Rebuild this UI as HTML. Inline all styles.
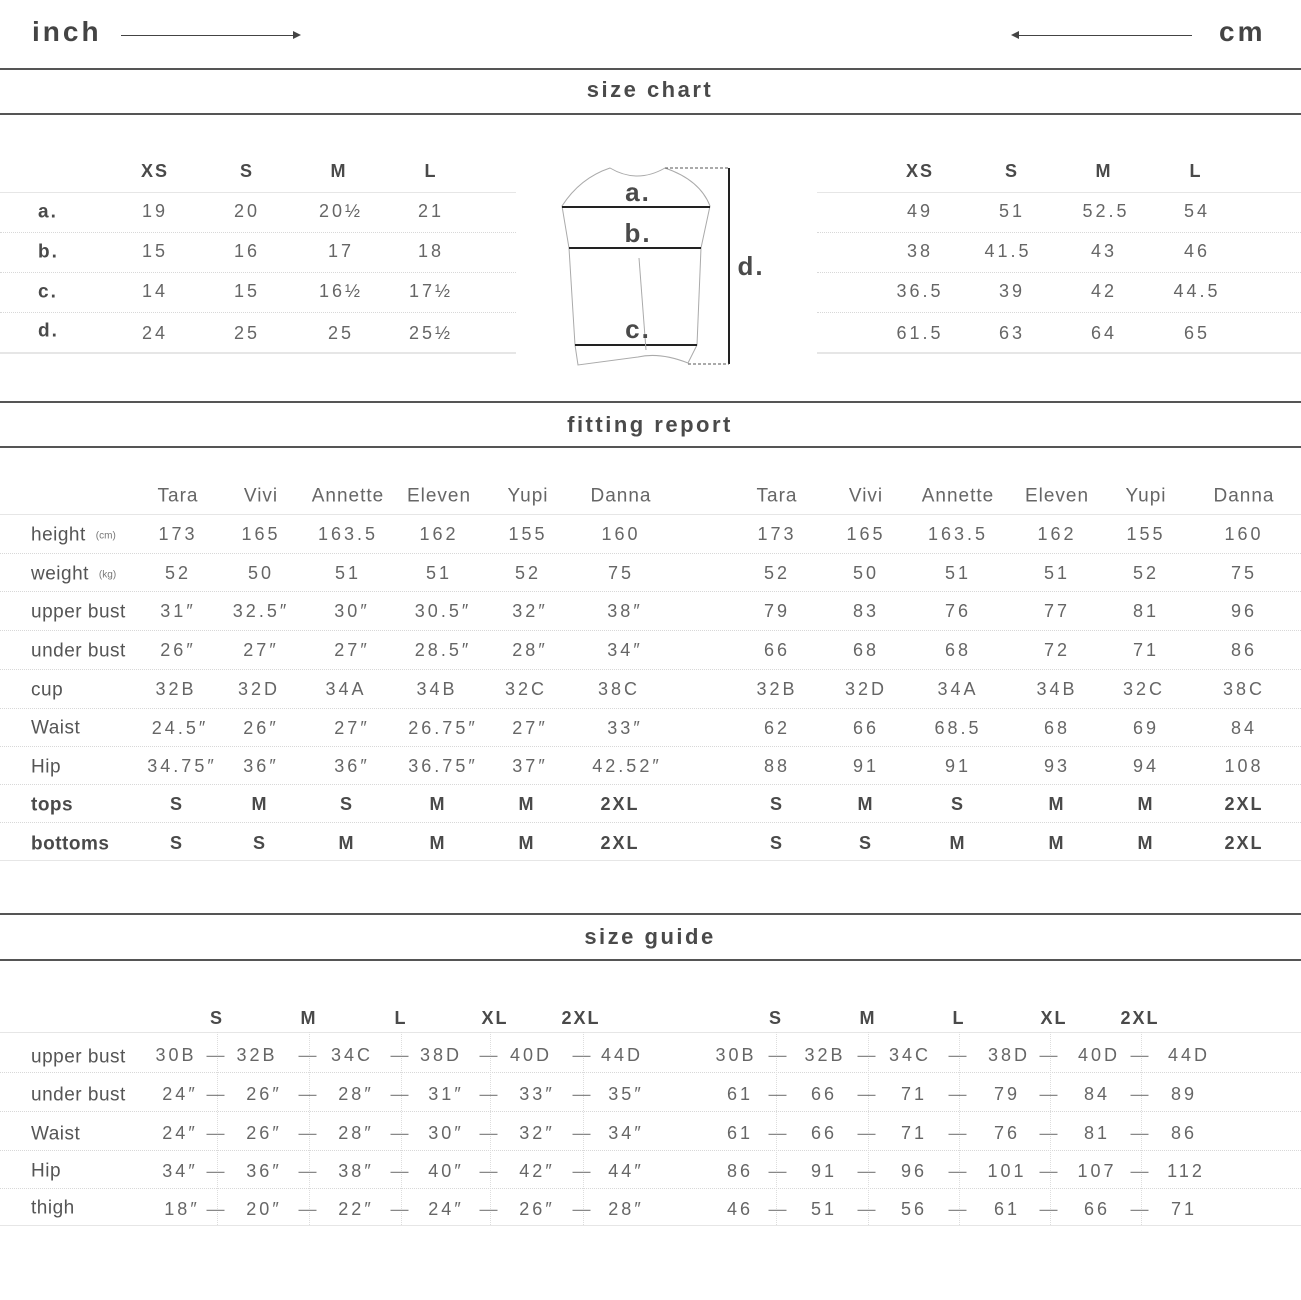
<!DOCTYPE html>
<html><head><meta charset="utf-8">
<style>
html,body{margin:0;padding:0;background:#fff;}
body{width:1301px;height:1300px;position:relative;overflow:hidden;font-family:"Liberation Sans",sans-serif;color:#5a5a5a;}
.t{position:absolute;transform:translate(-50%,-50%);white-space:nowrap;line-height:1;font-size:18px;letter-spacing:3px;font-weight:300;color:#666;}
.l{position:absolute;transform:translateY(-50%);white-space:nowrap;line-height:1;font-size:19px;letter-spacing:0.5px;color:#555;}
.b{font-weight:bold;color:#4a4a4a;letter-spacing:2px;}
.h{position:absolute;transform:translate(-50%,-50%);white-space:nowrap;line-height:1;font-size:19px;letter-spacing:1px;color:#666;}
.hr{position:absolute;left:0;width:1301px;height:2px;background:#555;}
.sl{position:absolute;height:1px;background:#e6e6e6;}
.dl{position:absolute;height:0;border-top:1px dotted #d8d8d8;}
.vd{position:absolute;width:0;border-left:1px dotted #ddd;}
.title{position:absolute;left:650px;transform:translate(-50%,-50%);font-size:22px;font-weight:bold;letter-spacing:2.5px;color:#4a4a4a;line-height:1;}
sup{font-size:10px;letter-spacing:0;vertical-align:2px;margin-left:10px;color:#777;}
</style></head><body>

<div style="position:absolute;left:32px;top:18px;font-size:28px;font-weight:bold;letter-spacing:3px;color:#444;line-height:1">inch</div>
<div style="position:absolute;left:121px;top:35px;width:174px;height:1px;background:#444"></div>
<div style="position:absolute;left:293px;top:31px;border-left:8px solid #444;border-top:4px solid transparent;border-bottom:4px solid transparent"></div>
<div style="position:absolute;left:1219px;top:18px;font-size:28px;font-weight:bold;letter-spacing:3px;color:#444;line-height:1">cm</div>
<div style="position:absolute;left:1018px;top:35px;width:174px;height:1px;background:#444"></div>
<div style="position:absolute;left:1011px;top:31px;border-right:8px solid #444;border-top:4px solid transparent;border-bottom:4px solid transparent"></div>

<div class="hr" style="top:68px"></div>
<div class="title" style="top:90px">size chart</div>
<div class="hr" style="top:113px"></div>

<!-- size chart left -->
<div class="sl" style="left:0;width:516px;top:192px"></div>
<div class="dl" style="left:0;width:516px;top:232px"></div>
<div class="dl" style="left:0;width:516px;top:272px"></div>
<div class="dl" style="left:0;width:516px;top:312px"></div>
<div class="sl" style="left:0;width:516px;top:352px;height:2px"></div>
<div class="sl" style="left:817px;width:484px;top:192px"></div>
<div class="dl" style="left:817px;width:484px;top:232px"></div>
<div class="dl" style="left:817px;width:484px;top:272px"></div>
<div class="dl" style="left:817px;width:484px;top:312px"></div>
<div class="sl" style="left:817px;width:484px;top:352px;height:2px"></div>

<div class="t b" style="left:155px;top:171px">XS</div><div class="t b" style="left:247px;top:171px">S</div><div class="t b" style="left:339px;top:171px">M</div><div class="t b" style="left:431px;top:171px">L</div>
<div class="l b" style="left:38px;top:212px">a.</div><div class="l b" style="left:38px;top:252px">b.</div><div class="l b" style="left:38px;top:292px">c.</div><div class="l b" style="left:38px;top:331px">d.</div>
<div class="t" style="left:155px;top:211px">19</div><div class="t" style="left:247px;top:211px">20</div><div class="t" style="left:341px;top:211px">20½</div><div class="t" style="left:431px;top:211px">21</div>
<div class="t" style="left:155px;top:251px">15</div><div class="t" style="left:247px;top:251px">16</div><div class="t" style="left:341px;top:251px">17</div><div class="t" style="left:431px;top:251px">18</div>
<div class="t" style="left:155px;top:291px">14</div><div class="t" style="left:247px;top:291px">15</div><div class="t" style="left:341px;top:291px">16½</div><div class="t" style="left:431px;top:291px">17½</div>
<div class="t" style="left:155px;top:333px">24</div><div class="t" style="left:247px;top:333px">25</div><div class="t" style="left:341px;top:333px">25</div><div class="t" style="left:431px;top:333px">25½</div>

<div class="t b" style="left:920px;top:171px">XS</div><div class="t b" style="left:1012px;top:171px">S</div><div class="t b" style="left:1104px;top:171px">M</div><div class="t b" style="left:1196px;top:171px">L</div>
<div class="t" style="left:920px;top:211px">49</div><div class="t" style="left:1012px;top:211px">51</div><div class="t" style="left:1106px;top:211px">52.5</div><div class="t" style="left:1197px;top:211px">54</div>
<div class="t" style="left:920px;top:251px">38</div><div class="t" style="left:1008px;top:251px">41.5</div><div class="t" style="left:1104px;top:251px">43</div><div class="t" style="left:1197px;top:251px">46</div>
<div class="t" style="left:920px;top:291px">36.5</div><div class="t" style="left:1012px;top:291px">39</div><div class="t" style="left:1104px;top:291px">42</div><div class="t" style="left:1197px;top:291px">44.5</div>
<div class="t" style="left:920px;top:333px">61.5</div><div class="t" style="left:1012px;top:333px">63</div><div class="t" style="left:1104px;top:333px">64</div><div class="t" style="left:1197px;top:333px">65</div>

<svg style="position:absolute;left:0;top:0" width="1301" height="400">
<path d="M610 168 Q637 184 665 168 Q700 180 710 206 L701 248 L697 345 L688 363 Q660 352 638 357 Q600 362 578 365 L575 345 L569 248 L562 206 Q580 178 610 168 Z" fill="none" stroke="#aaa" stroke-width="1"/>
<line x1="562" y1="207" x2="710" y2="207" stroke="#222" stroke-width="2"/>
<line x1="569" y1="248" x2="701" y2="248" stroke="#222" stroke-width="2"/>
<line x1="575" y1="345" x2="697" y2="345" stroke="#222" stroke-width="2"/>
<line x1="639" y1="258" x2="646" y2="350" stroke="#aaa" stroke-width="1"/>
<line x1="729" y1="168" x2="729" y2="364" stroke="#222" stroke-width="2"/>
<line x1="665" y1="168" x2="729" y2="168" stroke="#555" stroke-width="1" stroke-dasharray="3,2"/>
<line x1="688" y1="364" x2="729" y2="364" stroke="#555" stroke-width="1" stroke-dasharray="3,2"/>
</svg>
<div class="t b" style="left:638px;top:192px;font-size:26px">a.</div>
<div class="t b" style="left:638px;top:233px;font-size:26px">b.</div>
<div class="t b" style="left:638px;top:329px;font-size:26px">c.</div>
<div class="t b" style="left:751px;top:266px;font-size:26px">d.</div>

<div class="hr" style="top:401px"></div>
<div class="title" style="top:425px">fitting report</div>
<div class="hr" style="top:446px"></div>

<!-- fitting report lines -->
<div class="sl" style="left:0;width:1301px;top:514px"></div>
<div class="dl" style="left:0;width:1301px;top:553px"></div>
<div class="dl" style="left:0;width:1301px;top:591px"></div>
<div class="dl" style="left:0;width:1301px;top:630px"></div>
<div class="dl" style="left:0;width:1301px;top:669px"></div>
<div class="dl" style="left:0;width:1301px;top:708px"></div>
<div class="dl" style="left:0;width:1301px;top:746px"></div>
<div class="dl" style="left:0;width:1301px;top:784px"></div>
<div class="dl" style="left:0;width:1301px;top:822px"></div>
<div class="sl" style="left:0;width:1301px;top:860px"></div>

<div class="h" style="left:178px;top:496px">Tara</div><div class="h" style="left:261px;top:496px">Vivi</div><div class="h" style="left:348px;top:496px">Annette</div><div class="h" style="left:439px;top:496px">Eleven</div><div class="h" style="left:528px;top:496px">Yupi</div><div class="h" style="left:621px;top:496px">Danna</div>
<div class="h" style="left:777px;top:496px">Tara</div><div class="h" style="left:866px;top:496px">Vivi</div><div class="h" style="left:958px;top:496px">Annette</div><div class="h" style="left:1057px;top:496px">Eleven</div><div class="h" style="left:1146px;top:496px">Yupi</div><div class="h" style="left:1244px;top:496px">Danna</div>

<div class="l" style="left:31px;top:535px">height<sup>(cm)</sup></div>
<div class="l" style="left:31px;top:574px">weight<sup>(kg)</sup></div>
<div class="l" style="left:31px;top:612px">upper bust</div>
<div class="l" style="left:31px;top:651px">under bust</div>
<div class="l" style="left:31px;top:690px">cup</div>
<div class="l" style="left:31px;top:728px">Waist</div>
<div class="l" style="left:31px;top:767px">Hip</div>
<div class="l b" style="left:31px;top:805px;letter-spacing:0.5px">tops</div>
<div class="l b" style="left:31px;top:844px;letter-spacing:0.5px">bottoms</div>

<div class="t" style="left:178px;top:534px">173</div><div class="t" style="left:261px;top:534px">165</div><div class="t" style="left:348px;top:534px">163.5</div><div class="t" style="left:439px;top:534px">162</div><div class="t" style="left:528px;top:534px">155</div><div class="t" style="left:621px;top:534px">160</div>
<div class="t" style="left:178px;top:573px">52</div><div class="t" style="left:261px;top:573px">50</div><div class="t" style="left:348px;top:573px">51</div><div class="t" style="left:439px;top:573px">51</div><div class="t" style="left:528px;top:573px">52</div><div class="t" style="left:621px;top:573px">75</div>
<div class="t" style="left:178px;top:611px">31″</div><div class="t" style="left:261px;top:611px">32.5″</div><div class="t" style="left:352px;top:611px">30″</div><div class="t" style="left:443px;top:611px">30.5″</div><div class="t" style="left:530px;top:611px">32″</div><div class="t" style="left:625px;top:611px">38″</div>
<div class="t" style="left:178px;top:650px">26″</div><div class="t" style="left:261px;top:650px">27″</div><div class="t" style="left:352px;top:650px">27″</div><div class="t" style="left:443px;top:650px">28.5″</div><div class="t" style="left:530px;top:650px">28″</div><div class="t" style="left:625px;top:650px">34″</div>
<div class="t" style="left:176px;top:689px">32B</div><div class="t" style="left:259px;top:689px">32D</div><div class="t" style="left:346px;top:689px">34A</div><div class="t" style="left:437px;top:689px">34B</div><div class="t" style="left:526px;top:689px">32C</div><div class="t" style="left:619px;top:689px">38C</div>
<div class="t" style="left:180px;top:728px">24.5″</div><div class="t" style="left:261px;top:728px">26″</div><div class="t" style="left:352px;top:728px">27″</div><div class="t" style="left:443px;top:728px">26.75″</div><div class="t" style="left:530px;top:728px">27″</div><div class="t" style="left:625px;top:728px">33″</div>
<div class="t" style="left:182px;top:766px">34.75″</div><div class="t" style="left:261px;top:766px">36″</div><div class="t" style="left:352px;top:766px">36″</div><div class="t" style="left:443px;top:766px">36.75″</div><div class="t" style="left:530px;top:766px">37″</div><div class="t" style="left:627px;top:766px">42.52″</div>
<div class="t b" style="left:177px;top:804px">S</div><div class="t b" style="left:260px;top:804px">M</div><div class="t b" style="left:347px;top:804px">S</div><div class="t b" style="left:438px;top:804px">M</div><div class="t b" style="left:527px;top:804px">M</div><div class="t b" style="left:620px;top:804px">2XL</div>
<div class="t b" style="left:177px;top:843px">S</div><div class="t b" style="left:260px;top:843px">S</div><div class="t b" style="left:347px;top:843px">M</div><div class="t b" style="left:438px;top:843px">M</div><div class="t b" style="left:527px;top:843px">M</div><div class="t b" style="left:620px;top:843px">2XL</div>

<div class="t" style="left:777px;top:534px">173</div><div class="t" style="left:866px;top:534px">165</div><div class="t" style="left:958px;top:534px">163.5</div><div class="t" style="left:1057px;top:534px">162</div><div class="t" style="left:1146px;top:534px">155</div><div class="t" style="left:1244px;top:534px">160</div>
<div class="t" style="left:777px;top:573px">52</div><div class="t" style="left:866px;top:573px">50</div><div class="t" style="left:958px;top:573px">51</div><div class="t" style="left:1057px;top:573px">51</div><div class="t" style="left:1146px;top:573px">52</div><div class="t" style="left:1244px;top:573px">75</div>
<div class="t" style="left:777px;top:611px">79</div><div class="t" style="left:866px;top:611px">83</div><div class="t" style="left:958px;top:611px">76</div><div class="t" style="left:1057px;top:611px">77</div><div class="t" style="left:1146px;top:611px">81</div><div class="t" style="left:1244px;top:611px">96</div>
<div class="t" style="left:777px;top:650px">66</div><div class="t" style="left:866px;top:650px">68</div><div class="t" style="left:958px;top:650px">68</div><div class="t" style="left:1057px;top:650px">72</div><div class="t" style="left:1146px;top:650px">71</div><div class="t" style="left:1244px;top:650px">86</div>
<div class="t" style="left:777px;top:689px">32B</div><div class="t" style="left:866px;top:689px">32D</div><div class="t" style="left:958px;top:689px">34A</div><div class="t" style="left:1057px;top:689px">34B</div><div class="t" style="left:1144px;top:689px">32C</div><div class="t" style="left:1244px;top:689px">38C</div>
<div class="t" style="left:777px;top:728px">62</div><div class="t" style="left:866px;top:728px">66</div><div class="t" style="left:958px;top:728px">68.5</div><div class="t" style="left:1057px;top:728px">68</div><div class="t" style="left:1146px;top:728px">69</div><div class="t" style="left:1244px;top:728px">84</div>
<div class="t" style="left:777px;top:766px">88</div><div class="t" style="left:866px;top:766px">91</div><div class="t" style="left:958px;top:766px">91</div><div class="t" style="left:1057px;top:766px">93</div><div class="t" style="left:1146px;top:766px">94</div><div class="t" style="left:1244px;top:766px">108</div>
<div class="t b" style="left:777px;top:804px">S</div><div class="t b" style="left:866px;top:804px">M</div><div class="t b" style="left:958px;top:804px">S</div><div class="t b" style="left:1057px;top:804px">M</div><div class="t b" style="left:1146px;top:804px">M</div><div class="t b" style="left:1244px;top:804px">2XL</div>
<div class="t b" style="left:777px;top:843px">S</div><div class="t b" style="left:866px;top:843px">S</div><div class="t b" style="left:958px;top:843px">M</div><div class="t b" style="left:1057px;top:843px">M</div><div class="t b" style="left:1146px;top:843px">M</div><div class="t b" style="left:1244px;top:843px">2XL</div>

<div class="hr" style="top:913px"></div>
<div class="title" style="top:937px">size guide</div>
<div class="hr" style="top:959px"></div>

<!-- size guide -->
<div class="sl" style="left:0;width:1301px;top:1032px"></div>
<div class="dl" style="left:0;width:1301px;top:1072px"></div>
<div class="dl" style="left:0;width:1301px;top:1111px"></div>
<div class="dl" style="left:0;width:1301px;top:1150px"></div>
<div class="dl" style="left:0;width:1301px;top:1188px"></div>
<div class="sl" style="left:0;width:1301px;top:1225px"></div>
<div class="vd" style="left:217px;top:1032px;height:193px"></div><div class="vd" style="left:309px;top:1032px;height:193px"></div><div class="vd" style="left:401px;top:1032px;height:193px"></div><div class="vd" style="left:490px;top:1032px;height:193px"></div><div class="vd" style="left:583px;top:1032px;height:193px"></div>
<div class="vd" style="left:776px;top:1032px;height:193px"></div><div class="vd" style="left:868px;top:1032px;height:193px"></div><div class="vd" style="left:959px;top:1032px;height:193px"></div><div class="vd" style="left:1050px;top:1032px;height:193px"></div><div class="vd" style="left:1141px;top:1032px;height:193px"></div>

<div class="t b" style="left:217px;top:1018px">S</div><div class="t b" style="left:309px;top:1018px">M</div><div class="t b" style="left:401px;top:1018px">L</div><div class="t b" style="left:495px;top:1018px">XL</div><div class="t b" style="left:581px;top:1018px">2XL</div>
<div class="t b" style="left:776px;top:1018px">S</div><div class="t b" style="left:868px;top:1018px">M</div><div class="t b" style="left:959px;top:1018px">L</div><div class="t b" style="left:1054px;top:1018px">XL</div><div class="t b" style="left:1140px;top:1018px">2XL</div>

<div class="l" style="left:31px;top:1057px">upper bust</div>
<div class="l" style="left:31px;top:1095px">under bust</div>
<div class="l" style="left:31px;top:1134px">Waist</div>
<div class="l" style="left:31px;top:1171px">Hip</div>
<div class="l" style="left:31px;top:1208px">thigh</div>

<div class="t" style="left:176px;top:1055px">30B</div><div class="t" style="left:257px;top:1055px">32B</div><div class="t" style="left:352px;top:1055px">34C</div><div class="t" style="left:441px;top:1055px">38D</div><div class="t" style="left:531px;top:1055px">40D</div><div class="t" style="left:622px;top:1055px">44D</div>
<div class="t" style="left:180px;top:1094px">24″</div><div class="t" style="left:264px;top:1094px">26″</div><div class="t" style="left:356px;top:1094px">28″</div><div class="t" style="left:446px;top:1094px">31″</div><div class="t" style="left:537px;top:1094px">33″</div><div class="t" style="left:626px;top:1094px">35″</div>
<div class="t" style="left:180px;top:1133px">24″</div><div class="t" style="left:264px;top:1133px">26″</div><div class="t" style="left:356px;top:1133px">28″</div><div class="t" style="left:446px;top:1133px">30″</div><div class="t" style="left:537px;top:1133px">32″</div><div class="t" style="left:626px;top:1133px">34″</div>
<div class="t" style="left:180px;top:1171px">34″</div><div class="t" style="left:264px;top:1171px">36″</div><div class="t" style="left:356px;top:1171px">38″</div><div class="t" style="left:446px;top:1171px">40″</div><div class="t" style="left:537px;top:1171px">42″</div><div class="t" style="left:626px;top:1171px">44″</div>
<div class="t" style="left:182px;top:1209px">18″</div><div class="t" style="left:264px;top:1209px">20″</div><div class="t" style="left:356px;top:1209px">22″</div><div class="t" style="left:446px;top:1209px">24″</div><div class="t" style="left:537px;top:1209px">26″</div><div class="t" style="left:626px;top:1209px">28″</div>

<div class="t" style="left:736px;top:1055px">30B</div><div class="t" style="left:825px;top:1055px">32B</div><div class="t" style="left:910px;top:1055px">34C</div><div class="t" style="left:1009px;top:1055px">38D</div><div class="t" style="left:1099px;top:1055px">40D</div><div class="t" style="left:1189px;top:1055px">44D</div>
<div class="t" style="left:740px;top:1094px">61</div><div class="t" style="left:824px;top:1094px">66</div><div class="t" style="left:914px;top:1094px">71</div><div class="t" style="left:1007px;top:1094px">79</div><div class="t" style="left:1097px;top:1094px">84</div><div class="t" style="left:1184px;top:1094px">89</div>
<div class="t" style="left:740px;top:1133px">61</div><div class="t" style="left:824px;top:1133px">66</div><div class="t" style="left:914px;top:1133px">71</div><div class="t" style="left:1007px;top:1133px">76</div><div class="t" style="left:1097px;top:1133px">81</div><div class="t" style="left:1184px;top:1133px">86</div>
<div class="t" style="left:740px;top:1171px">86</div><div class="t" style="left:824px;top:1171px">91</div><div class="t" style="left:914px;top:1171px">96</div><div class="t" style="left:1007px;top:1171px">101</div><div class="t" style="left:1097px;top:1171px">107</div><div class="t" style="left:1186px;top:1171px">112</div>
<div class="t" style="left:740px;top:1209px">46</div><div class="t" style="left:824px;top:1209px">51</div><div class="t" style="left:914px;top:1209px">56</div><div class="t" style="left:1007px;top:1209px">61</div><div class="t" style="left:1097px;top:1209px">66</div><div class="t" style="left:1184px;top:1209px">71</div>

<!-- dashes -->
<div class="t" style="left:217px;top:1055px;color:#888">—</div><div class="t" style="left:309px;top:1055px;color:#888">—</div><div class="t" style="left:401px;top:1055px;color:#888">—</div><div class="t" style="left:490px;top:1055px;color:#888">—</div><div class="t" style="left:583px;top:1055px;color:#888">—</div>
<div class="t" style="left:217px;top:1094px;color:#888">—</div><div class="t" style="left:309px;top:1094px;color:#888">—</div><div class="t" style="left:401px;top:1094px;color:#888">—</div><div class="t" style="left:490px;top:1094px;color:#888">—</div><div class="t" style="left:583px;top:1094px;color:#888">—</div>
<div class="t" style="left:217px;top:1133px;color:#888">—</div><div class="t" style="left:309px;top:1133px;color:#888">—</div><div class="t" style="left:401px;top:1133px;color:#888">—</div><div class="t" style="left:490px;top:1133px;color:#888">—</div><div class="t" style="left:583px;top:1133px;color:#888">—</div>
<div class="t" style="left:217px;top:1171px;color:#888">—</div><div class="t" style="left:309px;top:1171px;color:#888">—</div><div class="t" style="left:401px;top:1171px;color:#888">—</div><div class="t" style="left:490px;top:1171px;color:#888">—</div><div class="t" style="left:583px;top:1171px;color:#888">—</div>
<div class="t" style="left:217px;top:1209px;color:#888">—</div><div class="t" style="left:309px;top:1209px;color:#888">—</div><div class="t" style="left:401px;top:1209px;color:#888">—</div><div class="t" style="left:490px;top:1209px;color:#888">—</div><div class="t" style="left:583px;top:1209px;color:#888">—</div>
<div class="t" style="left:779px;top:1055px;color:#888">—</div><div class="t" style="left:868px;top:1055px;color:#888">—</div><div class="t" style="left:959px;top:1055px;color:#888">—</div><div class="t" style="left:1050px;top:1055px;color:#888">—</div><div class="t" style="left:1141px;top:1055px;color:#888">—</div>
<div class="t" style="left:779px;top:1094px;color:#888">—</div><div class="t" style="left:868px;top:1094px;color:#888">—</div><div class="t" style="left:959px;top:1094px;color:#888">—</div><div class="t" style="left:1050px;top:1094px;color:#888">—</div><div class="t" style="left:1141px;top:1094px;color:#888">—</div>
<div class="t" style="left:779px;top:1133px;color:#888">—</div><div class="t" style="left:868px;top:1133px;color:#888">—</div><div class="t" style="left:959px;top:1133px;color:#888">—</div><div class="t" style="left:1050px;top:1133px;color:#888">—</div><div class="t" style="left:1141px;top:1133px;color:#888">—</div>
<div class="t" style="left:779px;top:1171px;color:#888">—</div><div class="t" style="left:868px;top:1171px;color:#888">—</div><div class="t" style="left:959px;top:1171px;color:#888">—</div><div class="t" style="left:1050px;top:1171px;color:#888">—</div><div class="t" style="left:1141px;top:1171px;color:#888">—</div>
<div class="t" style="left:779px;top:1209px;color:#888">—</div><div class="t" style="left:868px;top:1209px;color:#888">—</div><div class="t" style="left:959px;top:1209px;color:#888">—</div><div class="t" style="left:1050px;top:1209px;color:#888">—</div><div class="t" style="left:1141px;top:1209px;color:#888">—</div>

</body></html>
